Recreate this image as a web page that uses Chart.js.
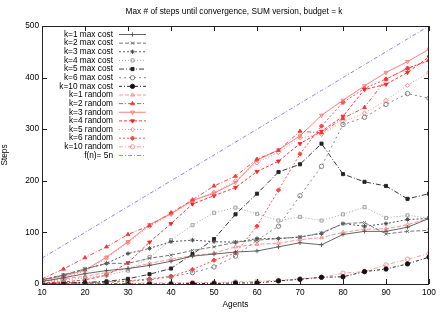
<!DOCTYPE html>
<html lang="en">
<head>
  <meta charset="UTF-8">
  <title>Max # of steps until convergence</title>
  <script src="https://cdn.jsdelivr.net/npm/chart.js"></script>
  <style>
    body { margin: 0; background: #fff; }
  </style>
</head>
<body>
  <canvas id="myChart" width="445" height="312"></canvas>

  <script>
    // values
    const agents = [10, 15, 20, 25, 30, 35, 40, 45, 50, 55, 60, 65, 70, 75, 80, 85, 90, 95, 100];

    const k1Max  = [5, 12, 20, 26, 30, 36, 44, 54, 58, 62, 64, 72, 80, 76, 96, 102, 102, 110, 127];
    const k2Max  = [8, 18, 29, 40, 40, 50, 56, 65, 72, 81, 85, 88, 91, 99, 117, 119, 97, 102, 104];
    const k3Max  = [8, 17, 29, 40, 59, 69, 82, 85, 82, 81, 88, 88, 91, 98, 117, 112, 117, 125, 127];
    const k4Max  = [5, 8, 12, 17, 26, 52, 85, 114, 138, 148, 136, 123, 130, 123, 135, 149, 128, 133, 128];
    const k5Max  = [1, 2, 3, 5, 10, 19, 30, 58, 87, 135, 175, 217, 232, 272, 213, 198, 190, 165, 175];
    const k6Max  = [0, 1, 2, 3, 5, 8, 14, 22, 33, 54, 85, 112, 171, 228, 309, 323, 348, 369, 360];
    const k10Max = [0, 0, 0, 0, 0, 0, 0, 1, 1, 2, 2, 6, 9, 13, 14, 24, 29, 39, 52];

    const k1Rnd  = [5, 10, 15, 22, 30, 40, 48, 55, 60, 72, 77, 79, 86, 90, 100, 106, 107, 115, 127];
    const k2Rnd  = [10, 29, 51, 72, 96, 113, 138, 163, 190, 209, 242, 259, 296, 293, 321, 342, 397, 418, 433];
    const k3Rnd  = [8, 15, 27, 52, 82, 115, 136, 162, 176, 197, 240, 260, 287, 327, 356, 384, 410, 431, 455];
    const k4Rnd  = [2, 4, 8, 17, 41, 81, 117, 155, 171, 187, 218, 238, 272, 296, 325, 377, 387, 410, 440];
    const k5Rnd  = [5, 12, 25, 50, 80, 112, 135, 160, 178, 200, 235, 255, 283, 290, 315, 331, 356, 385, 410];
    const k6Rnd  = [1, 2, 3, 4, 6, 10, 15, 28, 46, 60, 112, 182, 252, 306, 352, 379, 397, 418, 433];
    const k10Rnd = [8, 3, 1, 1, 1, 2, 2, 3, 3, 4, 5, 7, 10, 13, 21, 24, 37, 48, 59];

    const fiveN  = [50, 75, 100, 125, 150, 175, 200, 225, 250, 275, 300, 325, 350, 375, 400, 425, 450, 475, 500];

    const xTicks = [10, 20, 30, 40, 50, 60, 70, 80, 90, 100];
    const yTicks = [0, 100, 200, 300, 400, 500];

    const FONT = 'Liberation Sans, Arial, sans-serif';
    const R = 2.2;

    function series(label, values, color, dash, style, filled, rotation) {
      return {
        label: label,
        data: values.map((v, i) => ({ x: agents[i], y: v })),
        borderColor: color,
        backgroundColor: filled ? color : 'rgba(0,0,0,0)',
        borderWidth: 0.9,
        borderDash: dash,
        pointStyle: style,
        pointRotation: rotation || 0,
        pointRadius: style === false ? 0 : R,
        pointBorderWidth: 0.9,
        pointBorderColor: color,
        pointBackgroundColor: filled ? color : 'rgba(0,0,0,0)',
        tension: 0,
        fill: false
      };
    }

    const datasets = [
      series('k=1 max cost', k1Max, '#555555', [], 'cross', false),
      series('k=2 max cost', k2Max, '#666666', [4, 2], 'crossRot', false),
      series('k=3 max cost', k3Max, '#444444', [2, 2], 'star', false),
      series('k=4 max cost', k4Max, '#999999', [1, 2], 'rect', false),
      series('k=5 max cost', k5Max, '#222222', [5, 2, 1, 2], 'rect', true),
      series('k=6 max cost', k6Max, '#777777', [2, 3], 'circle', false),
      series('k=10 max cost', k10Max, '#111111', [3, 2, 1, 2], 'circle', true),
      series('k=1 random', k1Rnd, '#ff8888', [4, 2], 'triangle', false),
      series('k=2 random', k2Rnd, '#ff3333', [4, 2, 1, 2], 'triangle', true),
      series('k=3 random', k3Rnd, '#ff7070', [], 'triangle', false, 180),
      series('k=4 random', k4Rnd, '#ff2020', [3, 2], 'triangle', true, 180),
      series('k=5 random', k5Rnd, '#ff8080', [1, 2], 'rectRot', false),
      series('k=6 random', k6Rnd, '#ff4040', [2, 2], 'rectRot', true),
      series('k=10 random', k10Rnd, '#ff9090', [4, 2, 1, 2], 'circle', false),
      series('f(n)= 5n', fiveN, '#7777ff', [4, 2, 1, 2], false, false)
    ];

    // gnuplot-like frame, inward ticks, title and legend
    const gnuplotLook = {
      id: 'gnuplotLook',
      afterDatasetsDraw(chart) {
        const ctx = chart.ctx;
        const a = chart.chartArea;
        const xs = chart.scales.x, ys = chart.scales.y;
        ctx.save();
        ctx.strokeStyle = '#222';
        ctx.lineWidth = 1;
        ctx.setLineDash([]);
        ctx.strokeRect(a.left + 0.5, a.top + 0.5, a.right - a.left - 1, a.bottom - a.top);
        ctx.beginPath();
        xTicks.forEach(t => {
          const px = Math.round(xs.getPixelForValue(t)) + 0.5;
          ctx.moveTo(px, a.bottom); ctx.lineTo(px, a.bottom - 5);
          ctx.moveTo(px, a.top); ctx.lineTo(px, a.top + 5);
        });
        yTicks.forEach(t => {
          const py = Math.round(ys.getPixelForValue(t)) + 0.5;
          ctx.moveTo(a.left, py); ctx.lineTo(a.left + 5, py);
          ctx.moveTo(a.right, py); ctx.lineTo(a.right - 5, py);
        });
        ctx.stroke();

        // title
        ctx.fillStyle = '#000';
        ctx.font = '8.3px ' + FONT;
        ctx.textAlign = 'center';
        ctx.textBaseline = 'middle';
        ctx.fillText('Max # of steps until convergence, SUM version, budget = k', 234, 12);

        // legend: text, then line sample with marker
        ctx.textAlign = 'right';
        chart.data.datasets.forEach((ds, i) => {
          const y = 34 + i * 8.64;
          ctx.fillStyle = '#000';
          ctx.fillText(ds.label, 113, y + 0.5);
          ctx.strokeStyle = ds.borderColor;
          ctx.lineWidth = 0.9;
          ctx.setLineDash(ds.borderDash);
          ctx.beginPath();
          ctx.moveTo(119, y + 0.5); ctx.lineTo(146, y + 0.5);
          ctx.stroke();
          ctx.setLineDash([]);
          if (ds.pointStyle) {
            ctx.fillStyle = ds.pointBackgroundColor;
            ctx.strokeStyle = ds.pointBorderColor;
            Chart.helpers.drawPoint(ctx, {
              pointStyle: ds.pointStyle, radius: R, rotation: ds.pointRotation, borderWidth: 0.9
            }, 132.5, y + 0.5);
          }
        });
        ctx.restore();
      }
    };

    new Chart(document.getElementById('myChart').getContext('2d'), {
      type: 'line',
      data: { datasets: datasets },
      options: {
        responsive: false,
        animation: false,
        layout: { padding: { top: 26, right: 16, left: 0, bottom: 0 } },
        plugins: {
          legend: { display: false },
          title: { display: false },
          tooltip: { enabled: false }
        },
        scales: {
          x: {
            type: 'linear',
            min: 10, max: 100,
            afterFit(scale) { scale.height = 28; },
            grid: { display: false, drawTicks: false },
            border: { display: false },
            ticks: { stepSize: 10, padding: 4, color: '#000', font: { family: FONT, size: 8.3 } },
            title: { display: true, text: 'Agents', color: '#000', padding: { top: 0, bottom: 2 }, font: { family: FONT, size: 8.3 } }
          },
          y: {
            min: 0, max: 500,
            afterFit(scale) { scale.width = 42; },
            grid: { display: false, drawTicks: false },
            border: { display: false },
            ticks: { stepSize: 100, padding: 3, color: '#000', font: { family: FONT, size: 8.3 } },
            title: { display: true, text: 'Steps', color: '#000', padding: { top: 0, bottom: 2 }, font: { family: FONT, size: 8.3 } }
          }
        }
      },
      plugins: [gnuplotLook]
    });
  </script>
</body>
</html>
